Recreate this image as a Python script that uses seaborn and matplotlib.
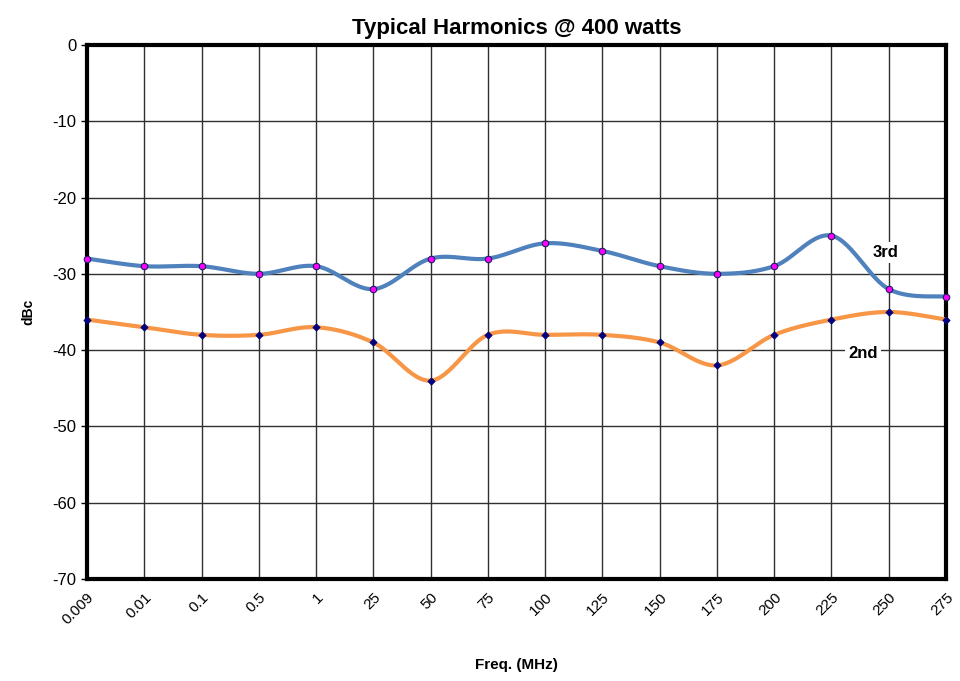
import numpy as np
import pandas as pd
import matplotlib
matplotlib.use('Agg')
import matplotlib.pyplot as plt
import seaborn as sns

# data
freqs = ['0.009', '0.01', '0.1', '0.5', '1', '25', '50', '75', '100',
         '125', '150', '175', '200', '225', '250', '275']
third = [-28, -29, -29, -30, -29, -32, -28, -28, -26, -27, -29, -30, -29, -25, -32, -33]
second = [-36, -37, -38, -38, -37, -39, -44, -38, -38, -38, -39, -42, -38, -36, -35, -36]


def smooth(y, n=30):
    """Excel-like smoothed line (Catmull-Rom bezier through the points)"""
    x = np.arange(len(y), dtype=float)
    y = np.asarray(y, dtype=float)
    px = np.concatenate([[x[0]], x, [x[-1]]])
    py = np.concatenate([[y[0]], y, [y[-1]]])
    xs, ys = [], []
    t = np.linspace(0, 1, n)
    for i in range(1, len(px) - 2):
        p0 = np.array([px[i], py[i]])
        p3 = np.array([px[i + 1], py[i + 1]])
        c1 = p0 + (np.array([px[i + 1], py[i + 1]]) - np.array([px[i - 1], py[i - 1]])) / 6
        c2 = p3 - (np.array([px[i + 2], py[i + 2]]) - np.array([px[i], py[i]])) / 6
        b = ((1 - t) ** 3)[:, None] * p0 + (3 * (1 - t) ** 2 * t)[:, None] * c1 \
            + (3 * (1 - t) * t ** 2)[:, None] * c2 + (t ** 3)[:, None] * p3
        xs.extend(b[:, 0])
        ys.extend(b[:, 1])
    return np.array(xs), np.array(ys)


sns.set_theme(style="white")
plt.rcParams['font.family'] = ['Liberation Sans', 'DejaVu Sans']
plt.rcParams['axes.unicode_minus'] = False
plt.rcParams['text.color'] = 'black'
plt.rcParams['xtick.color'] = 'black'
plt.rcParams['ytick.color'] = 'black'
plt.rcParams['axes.labelcolor'] = 'black'

fig = plt.figure(figsize=(9.6, 6.81), dpi=100)
ax = fig.add_axes([0.0906, 0.1498, 0.8948, 0.7842])

# smoothed lines
for vals, col in [(third, '#4f81bd'), (second, '#f79646')]:
    sx, sy = smooth(vals)
    sns.lineplot(x=sx, y=sy, ax=ax, color=col, linewidth=3, sort=False, zorder=3)

pts = pd.DataFrame({'x': np.arange(len(freqs)), 'third': third, 'second': second})
sns.scatterplot(data=pts, x='x', y='third', ax=ax, color='#ff00ff', edgecolor='#202060',
                s=22, linewidth=0.8, zorder=4, clip_on=False)
sns.scatterplot(data=pts, x='x', y='second', ax=ax, color='#000080', edgecolor='#000080',
                marker='D', s=14, linewidth=0.5, zorder=4, clip_on=False)

ax.set_xlim(0, len(freqs) - 1)
ax.set_ylim(-70, 0)
ax.set_yticks(np.arange(-70, 1, 10))
ax.set_xticks(np.arange(len(freqs)))
ax.set_xticklabels(freqs, rotation=45, ha='right', rotation_mode='anchor', fontsize=11)
ax.tick_params(axis='y', labelsize=12, length=4, width=1, left=True)
ax.tick_params(axis='x', length=0, pad=8)

ax.grid(True, color='#303030', linewidth=1)
for s in ax.spines.values():
    s.set_color('black')
    s.set_linewidth(3)

ax.set_title('Typical Harmonics @ 400 watts', fontsize=16, fontweight='bold',
             family=['Liberation Sans Narrow', 'Liberation Sans'], pad=8)
ax.set_xlabel('Freq. (MHz)', fontsize=11, fontweight='bold', labelpad=22)
ax.set_ylabel('dBc', fontsize=10, fontweight='bold', labelpad=12)

ax.text(13.95, -27.2, '3rd', fontsize=12, fontweight='bold', ha='center', va='center',
        bbox=dict(facecolor='white', edgecolor='none', pad=2), zorder=5)
ax.text(13.55, -40.5, '2nd', fontsize=12, fontweight='bold', ha='center', va='center',
        bbox=dict(facecolor='white', edgecolor='none', pad=2), zorder=5)

plt.savefig('out.png', dpi=100)
